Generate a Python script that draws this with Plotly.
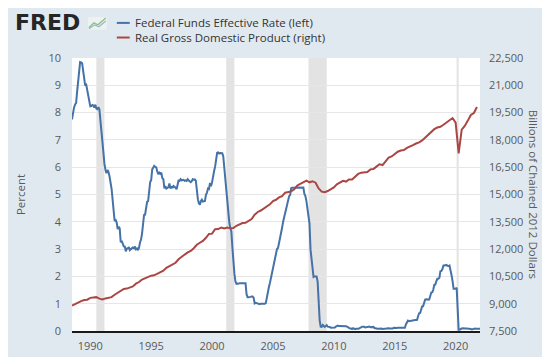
import pandas as pd
import plotly.graph_objects as go

# Federal Funds Effective Rate, monthly, from 1988-07
fedfunds_start = "1988-07-01"
fedfunds = [
    7.75, 8.01, 8.19, 8.30, 8.35, 8.76,
    9.12, 9.36, 9.85, 9.84, 9.81, 9.53, 9.24, 8.99, 9.02, 8.84, 8.55, 8.45,
    8.23, 8.24, 8.28, 8.26, 8.18, 8.29, 8.15, 8.13, 8.20, 8.11, 7.81, 7.31,
    6.91, 6.25, 6.12, 5.91, 5.78, 5.90, 5.82, 5.66, 5.45, 5.21, 4.81, 4.43,
    4.03, 4.06, 3.98, 3.73, 3.82, 3.76, 3.25, 3.30, 3.22, 3.10, 3.09, 2.92,
    3.02, 3.03, 3.07, 2.96, 3.00, 3.04, 3.06, 3.03, 3.09, 2.99, 3.02, 2.96,
    3.05, 3.25, 3.34, 3.56, 4.01, 4.25, 4.26, 4.47, 4.73, 4.76, 5.29, 5.45,
    5.53, 5.92, 5.98, 6.05, 6.01, 6.00, 5.85, 5.74, 5.80, 5.76, 5.80, 5.60,
    5.56, 5.22, 5.31, 5.22, 5.24, 5.27, 5.40, 5.22, 5.30, 5.24, 5.31, 5.29,
    5.25, 5.19, 5.39, 5.51, 5.50, 5.56, 5.52, 5.54, 5.54, 5.50, 5.52, 5.50,
    5.56, 5.51, 5.49, 5.45, 5.49, 5.56, 5.54, 5.55, 5.51, 5.07, 4.83, 4.68,
    4.63, 4.76, 4.81, 4.74, 4.74, 4.76, 4.99, 5.07, 5.22, 5.20, 5.42, 5.30,
    5.45, 5.73, 5.85, 6.02, 6.27, 6.53, 6.54, 6.50, 6.52, 6.51, 6.51, 6.40,
    5.98, 5.49, 5.31, 4.80, 4.21, 3.97, 3.77, 3.65, 3.07, 2.49, 2.09, 1.82,
    1.73, 1.74, 1.73, 1.75, 1.75, 1.75, 1.73, 1.74, 1.75, 1.75, 1.34, 1.24,
    1.24, 1.26, 1.25, 1.26, 1.26, 1.22, 1.01, 1.03, 1.01, 1.01, 1.00, 0.98,
    1.00, 1.01, 1.00, 1.00, 1.00, 1.03, 1.26, 1.43, 1.61, 1.76, 1.93, 2.16,
    2.28, 2.50, 2.63, 2.79, 3.00, 3.04, 3.26, 3.50, 3.62, 3.78, 4.00, 4.16,
    4.29, 4.49, 4.59, 4.79, 4.94, 4.99, 5.24, 5.25, 5.25, 5.25, 5.25, 5.24,
    5.25, 5.26, 5.26, 5.25, 5.25, 5.25, 5.26, 5.02, 4.94, 4.76, 4.49, 4.24,
    3.94, 2.98, 2.61, 2.28, 1.98, 2.00, 2.01, 2.00, 1.81, 0.97, 0.39, 0.16,
    0.15, 0.22, 0.18, 0.15, 0.18, 0.21, 0.16, 0.16, 0.15, 0.12, 0.12, 0.12,
    0.11, 0.13, 0.16, 0.20, 0.20, 0.18, 0.18, 0.19, 0.19, 0.19, 0.19, 0.18,
    0.17, 0.16, 0.14, 0.10, 0.09, 0.09, 0.07, 0.10, 0.08, 0.07, 0.08, 0.07,
    0.08, 0.10, 0.13, 0.14, 0.16, 0.16, 0.16, 0.13, 0.14, 0.16, 0.16, 0.16,
    0.14, 0.15, 0.14, 0.15, 0.11, 0.09, 0.09, 0.08, 0.08, 0.09, 0.08, 0.09,
    0.07, 0.07, 0.08, 0.09, 0.09, 0.10, 0.09, 0.09, 0.09, 0.09, 0.09, 0.12,
    0.11, 0.11, 0.11, 0.12, 0.12, 0.13, 0.13, 0.14, 0.14, 0.12, 0.12, 0.24,
    0.34, 0.38, 0.36, 0.37, 0.37, 0.38, 0.39, 0.40, 0.40, 0.40, 0.41, 0.54,
    0.65, 0.66, 0.79, 0.90, 0.91, 1.04, 1.15, 1.16, 1.15, 1.15, 1.16, 1.30,
    1.41, 1.42, 1.51, 1.69, 1.70, 1.82, 1.91, 1.91, 1.95, 2.19, 2.20, 2.27,
    2.40, 2.40, 2.41, 2.42, 2.39, 2.38, 2.40, 2.13, 2.04, 1.83, 1.55, 1.55,
    1.55, 1.58, 0.65, 0.05, 0.05, 0.08, 0.09, 0.10, 0.09, 0.09, 0.09, 0.09,
    0.09, 0.08, 0.07, 0.07, 0.06, 0.08, 0.10, 0.09, 0.08, 0.08, 0.08, 0.08,
    0.08,
]

# Real GDP, quarterly, billions of chained 2012 dollars, from 1988 Q3
gdp_start = "1988-07-01"
gdp = [
    8900, 8990,
    9070, 9140, 9200, 9220,
    9320, 9360, 9360, 9280,
    9230, 9290, 9330, 9360,
    9490, 9590, 9700, 9810,
    9830, 9890, 9950, 10100,
    10190, 10330, 10400, 10510,
    10540, 10560, 10650, 10730,
    10810, 10970, 11060, 11190,
    11250, 11440, 11590, 11700,
    11820, 11900, 12050, 12240,
    12350, 12450, 12620, 12830,
    12850, 13090, 13100, 13180,
    13130, 13190, 13140, 13160,
    13280, 13370, 13430, 13440,
    13530, 13650, 13890, 14040,
    14120, 14230, 14330, 14460,
    14640, 14710, 14840, 14910,
    15100, 15150, 15170, 15290,
    15490, 15590, 15670, 15760,
    15670, 15730, 15650, 15330,
    15160, 15130, 15190, 15310,
    15390, 15560, 15670, 15750,
    15710, 15830, 15830, 16010,
    16130, 16200, 16220, 16240,
    16380, 16400, 16530, 16660,
    16620, 16830, 17030, 17090,
    17250, 17350, 17420, 17440,
    17560, 17620, 17710, 17800,
    17860, 17970, 18120, 18300,
    18440, 18590, 18680, 18720,
    18830, 18950, 19110, 19200,
    18950, 17260, 18560, 18770,
    19060, 19370, 19480, 19810,
]

recession_starts = ["1990-07-01", "2001-03-01", "2007-12-01", "2020-02-01"]
recession_ends = ["1991-03-01", "2001-11-01", "2009-06-01", "2020-04-01"]

left_ticks = [0, 1, 2, 3, 4, 5, 6, 7, 8, 9, 10]
right_ticks = [7500, 9000, 10500, 12000, 13500, 15000, 16500, 18000, 19500, 21000, 22500]
x_ticks = ["1990", "1995", "2000", "2005", "2010", "2015", "2020"]
series_names = ["Federal Funds Effective Rate (left)", "Real Gross Domestic Product (right)"]

BLUE = "#4572a7"
RED = "#aa4643"
BG = "#e1e9f0"
TXT = "#595959"
FONT = "Open Sans"

ff_dates = pd.date_range(fedfunds_start, periods=len(fedfunds), freq="MS")
gdp_dates = pd.date_range(gdp_start, periods=len(gdp), freq="QS")

fig = go.Figure()
fig.add_trace(go.Scatter(x=ff_dates, y=fedfunds, mode="lines",
                         line=dict(color=BLUE, width=2),
                         name=series_names[0], showlegend=False, yaxis="y"))
fig.add_trace(go.Scatter(x=gdp_dates, y=gdp, mode="lines",
                         line=dict(color=RED, width=2),
                         name=series_names[1], showlegend=False, yaxis="y2"))

for s, e in zip(recession_starts, recession_ends):
    fig.add_vrect(x0=s, x1=e, fillcolor="#e3e3e3", opacity=1,
                  line_width=0, layer="below")

# Pixel helpers for header items
L, W, B, H = 62, 410, 27, 280
PH = 357
def px_x(px):
    return (px - L) / W
def px_y(py):
    return ((PH - B) - py) / H

# Legend (one two-line text block, with line swatches)
for color, py in [(BLUE, 14), (RED, 29)]:
    fig.add_shape(type="line", xref="paper", yref="paper",
                  x0=px_x(107), x1=px_x(120), y0=px_y(py), y1=px_y(py),
                  line=dict(color=color, width=2))
fig.add_annotation(xref="paper", yref="paper", x=px_x(123), y=px_y(21.5),
                   text="<br>".join(series_names), align="left",
                   showarrow=False, xanchor="left", yanchor="middle",
                   font=dict(family=FONT, size=11.5, color="#333333"))

# FRED logo
fig.add_annotation(xref="paper", yref="paper", x=px_x(3), y=px_y(14),
                   text="<b>FRED</b>", showarrow=False, xanchor="left", yanchor="middle",
                   font=dict(family="DejaVu Sans", size=22, color="#262626"))
fig.add_shape(type="rect", xref="paper", yref="paper",
              x0=px_x(78), x1=px_x(97), y0=px_y(21), y1=px_y(8),
              fillcolor="#eef2ee", line_width=0)
fig.add_shape(type="path", xref="paper", yref="paper",
              path=f"M {px_x(79)},{px_y(19)} L {px_x(84)},{px_y(14)} L {px_x(88)},{px_y(16)} L {px_x(96)},{px_y(9)}",
              line=dict(color="#8fc48f", width=1.5))
fig.add_shape(type="path", xref="paper", yref="paper",
              path=f"M {px_x(79)},{px_y(20)} L {px_x(85)},{px_y(16)} L {px_x(89)},{px_y(18)} L {px_x(96)},{px_y(12)}",
              line=dict(color="#9ab7d3", width=1.2))

# Right axis title
fig.add_annotation(xref="paper", yref="paper", x=px_x(526), y=0.5,
                   text="Billions of Chained 2012 Dollars", textangle=90,
                   showarrow=False, xanchor="center", yanchor="middle",
                   font=dict(family=FONT, size=11.5, color=TXT))

fig.update_layout(
    width=550, height=357,
    margin=dict(l=L, r=550 - L - W, t=PH - B - H, b=B),
    paper_bgcolor=BG, plot_bgcolor="#ffffff",
    font=dict(family=FONT, size=11, color=TXT),
    showlegend=False,
    xaxis=dict(type="date", range=["1988-07-01", "2022-01-01"],
               tickvals=[pd.Timestamp(f"{t}-01-01") for t in x_ticks],
               ticktext=x_ticks, showgrid=False, zeroline=False,
               showline=True, linecolor="#1a1a1a", linewidth=2,
               ticks="", ticklabelstandoff=4, tickfont=dict(size=11, color=TXT)),
    yaxis=dict(range=[0, 10], tickvals=left_ticks, showgrid=True,
               gridcolor="#e6e6e6", gridwidth=1, zeroline=False, ticks="",
               ticklabelstandoff=10,
               title=dict(text="Percent", standoff=20,
                          font=dict(size=11.5, color=TXT))),
    yaxis2=dict(range=[7500, 22500], tickvals=right_ticks, tickformat=",",
                overlaying="y", side="right", showgrid=False, zeroline=False,
                ticks="", ticklabelstandoff=8),
)

fig.write_html("out.html")
